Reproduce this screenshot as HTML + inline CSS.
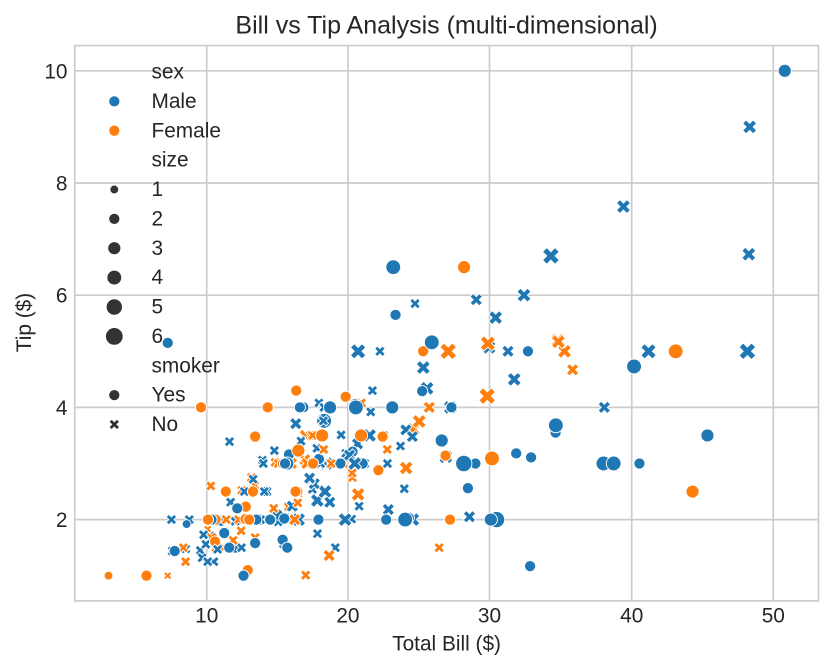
<!DOCTYPE html>
<html><head><meta charset="utf-8"><style>
html,body{margin:0;padding:0;background:#fff;}
svg{display:block;}
text{font-family:"Liberation Sans",Arial,sans-serif;fill:#262626;}
</style></head><body>
<svg id="c" width="833" height="670" viewBox="0 0 833 670" xmlns="http://www.w3.org/2000/svg">
<rect width="833" height="670" fill="#fff"/>
<g stroke="#cccccc" stroke-width="1.7">
<line x1="206.7" y1="45.6" x2="206.7" y2="600.9"/>
<line x1="347.9" y1="45.6" x2="347.9" y2="600.9"/>
<line x1="489.5" y1="45.6" x2="489.5" y2="600.9"/>
<line x1="631.7" y1="45.6" x2="631.7" y2="600.9"/>
<line x1="773.3" y1="45.6" x2="773.3" y2="600.9"/>
<line x1="74.7" y1="70.8" x2="818.5" y2="70.8"/>
<line x1="74.7" y1="183.0" x2="818.5" y2="183.0"/>
<line x1="74.7" y1="295.2" x2="818.5" y2="295.2"/>
<line x1="74.7" y1="407.4" x2="818.5" y2="407.4"/>
<line x1="74.7" y1="519.6" x2="818.5" y2="519.6"/>
</g>
<g id="pts"></g>
<rect x="74.7" y="45.6" width="743.8" height="555.3" fill="none" stroke="#cccccc" stroke-width="1.7"/>
<g id="leg"></g>
<g font-size="20.83">
<text x="151.5" y="78.6">sex</text>
<text x="151.5" y="108.0">Male</text>
<text x="151.5" y="137.3">Female</text>
<text x="151.5" y="166.7">size</text>
<text x="151.5" y="196.1">1</text>
<text x="151.5" y="225.5">2</text>
<text x="151.5" y="254.8">3</text>
<text x="151.5" y="284.2">4</text>
<text x="151.5" y="313.6">5</text>
<text x="151.5" y="343.0">6</text>
<text x="151.5" y="372.3">smoker</text>
<text x="151.5" y="401.7">Yes</text>
<text x="151.5" y="431.0">No</text>
</g>
<g font-size="20.83" text-anchor="middle">
<text x="206.7" y="622.3">10</text>
<text x="347.9" y="622.3">20</text>
<text x="489.5" y="622.3">30</text>
<text x="631.7" y="622.3">40</text>
<text x="773.3" y="622.3">50</text>
<text x="446.6" y="650.7">Total Bill ($)</text>
<text transform="translate(31,322.5) rotate(-90)">Tip ($)</text>
</g>
<g font-size="20.83" text-anchor="end">
<text x="67.5" y="78.3">10</text>
<text x="67.5" y="190.5">8</text>
<text x="67.5" y="302.7">6</text>
<text x="67.5" y="414.9">4</text>
<text x="67.5" y="527.1">2</text>
</g>
<text x="446.6" y="33.3" font-size="25" text-anchor="middle">Bill vs Tip Analysis (multi-dimensional)</text>
</svg>
<script>
const D="16.99,1.01,F,N,2;10.34,1.66,M,N,3;21.01,3.5,M,N,3;23.68,3.31,M,N,2;24.59,3.61,F,N,4;25.29,4.71,M,N,4;8.77,2.0,M,N,2;26.88,3.12,M,N,4;15.04,1.96,M,N,2;14.78,3.23,M,N,2;10.27,1.71,M,N,2;35.26,5.0,F,N,4;15.42,1.57,M,N,2;18.43,3.0,M,N,4;14.83,3.02,F,N,2;21.58,3.92,M,N,2;10.33,1.67,F,N,3;16.29,3.71,M,N,3;16.97,3.5,F,N,3;20.65,3.35,M,N,3;17.92,4.08,M,N,2;20.29,2.75,F,N,2;15.77,2.23,F,N,2;39.42,7.58,M,N,4;19.82,3.18,M,N,2;17.81,2.34,M,N,4;13.37,2.0,M,N,2;12.69,2.0,M,N,2;21.7,4.3,M,N,2;19.65,3.0,F,N,2;9.55,1.45,M,N,2;18.35,2.5,M,N,4;15.06,3.0,F,N,2;20.69,2.45,F,N,4;17.78,3.27,M,N,2;24.06,3.6,M,N,3;16.31,2.0,M,N,3;16.93,3.07,F,N,3;18.69,2.31,M,N,3;31.27,5.0,M,N,3;16.04,2.24,M,N,3;17.46,2.54,M,N,2;13.94,3.06,M,N,2;9.68,1.32,M,N,2;30.4,5.6,M,N,4;18.29,3.0,M,N,2;22.23,5.0,M,N,2;32.4,6.0,M,N,4;28.55,2.05,M,N,3;18.04,3.0,M,N,2;12.54,2.5,M,N,2;10.29,2.6,F,N,2;34.81,5.2,F,N,4;9.94,1.56,M,N,2;25.56,4.34,M,N,4;19.49,3.51,M,N,2;38.01,3.0,M,Y,4;26.41,1.5,F,N,2;11.24,1.76,M,Y,2;48.27,6.73,M,N,4;20.29,3.21,M,Y,2;13.81,2.0,M,Y,2;11.02,1.98,M,Y,2;18.29,3.76,M,Y,4;17.59,2.64,M,N,3;20.08,3.15,M,N,3;16.45,2.47,F,N,2;3.07,1.0,F,Y,1;20.23,2.01,M,N,2;15.01,2.09,M,Y,2;12.02,1.97,M,N,2;17.07,3.0,F,N,3;26.86,3.14,F,Y,2;25.28,5.0,F,Y,2;14.73,2.2,F,N,2;10.51,1.25,M,N,2;17.92,3.08,M,Y,2;27.2,4.0,M,N,4;22.76,3.0,M,N,2;17.29,2.71,M,N,2;19.44,3.0,M,Y,2;16.66,3.4,M,N,2;10.07,1.83,F,N,1;32.68,5.0,M,Y,2;15.98,2.03,M,N,2;34.83,5.17,F,N,4;13.03,2.0,M,N,2;18.28,4.0,M,N,2;24.71,5.85,M,N,2;21.16,3.0,M,N,2;28.97,3.0,M,Y,2;22.49,3.5,M,N,2;5.75,1.0,F,Y,2;16.32,4.3,F,Y,2;22.75,3.25,F,N,2;40.17,4.73,M,Y,4;27.28,4.0,M,Y,2;12.03,1.5,M,Y,2;21.01,3.0,M,Y,2;12.46,1.5,M,N,2;11.35,2.5,F,Y,2;15.38,3.0,F,Y,2;44.3,2.5,F,Y,3;22.42,3.48,F,Y,2;20.92,4.08,F,N,2;15.36,1.64,M,Y,2;20.49,4.06,M,Y,2;25.21,4.29,M,Y,2;18.24,3.76,M,N,2;14.31,4.0,F,Y,2;14.0,3.0,M,N,2;7.25,1.0,F,N,1;38.07,4.0,M,N,3;23.95,2.55,M,N,2;25.71,4.0,F,N,3;17.31,3.5,F,N,2;29.93,5.07,M,N,4;10.65,1.5,F,N,2;12.43,1.8,F,N,2;24.08,2.92,F,N,4;11.69,2.31,M,N,2;13.42,1.68,F,N,2;14.26,2.5,M,N,2;15.95,2.0,M,N,2;12.48,2.52,F,N,2;29.8,4.2,F,N,6;8.52,1.48,M,N,2;14.52,2.0,F,N,2;11.38,2.0,F,N,2;22.82,2.18,M,N,3;19.08,1.5,M,N,2;20.27,2.83,F,N,2;11.17,1.5,F,N,2;12.26,2.0,F,N,2;18.26,3.25,F,N,2;8.51,1.25,F,N,2;10.33,2.0,F,N,2;14.15,2.0,F,N,2;16.0,2.0,M,Y,2;13.16,2.75,F,N,2;17.47,3.5,F,N,2;34.3,6.7,M,N,6;41.19,5.0,M,N,5;27.05,5.0,F,N,6;16.43,2.3,F,N,2;8.35,1.5,F,N,2;18.64,1.36,F,N,3;11.87,1.63,F,N,2;9.78,1.73,M,N,2;7.51,2.0,M,N,2;14.07,2.5,M,N,2;13.13,2.0,M,N,2;17.26,2.74,M,N,3;24.55,2.0,M,N,4;19.77,2.0,M,N,4;29.85,5.14,F,N,5;48.17,5.0,M,N,6;25.0,3.75,F,N,4;13.39,2.61,F,N,2;16.49,2.0,M,N,4;21.5,3.5,M,N,4;12.66,2.5,M,N,2;16.21,2.0,F,N,3;13.81,2.0,M,N,2;17.51,3.0,F,Y,2;24.52,3.48,M,N,3;20.76,2.24,M,N,2;31.71,4.5,M,N,4;10.59,1.61,F,Y,2;10.63,2.0,F,Y,2;50.81,10.0,M,Y,3;15.81,3.16,M,Y,2;7.25,5.15,M,Y,2;31.85,3.18,M,Y,2;16.82,4.0,M,Y,2;32.9,3.11,M,Y,2;17.89,2.0,M,Y,2;14.48,2.0,M,Y,2;9.6,4.0,F,Y,2;34.63,3.55,M,Y,2;34.65,3.68,M,Y,4;23.33,5.65,M,Y,2;45.35,3.5,M,Y,3;23.17,6.5,M,Y,4;40.55,3.0,M,Y,2;20.69,5.0,M,N,5;20.9,3.5,F,Y,3;30.46,2.0,M,Y,5;18.15,3.5,F,Y,3;23.1,4.0,M,Y,3;15.69,1.5,M,Y,2;19.81,4.19,F,Y,2;28.44,2.56,M,Y,2;15.48,2.02,M,Y,2;16.58,4.0,M,Y,2;7.56,1.44,M,N,2;10.34,2.0,M,Y,2;43.11,5.0,F,Y,4;13.0,2.0,F,Y,2;13.51,2.0,M,Y,2;18.71,4.0,M,Y,3;12.74,2.01,F,Y,2;13.0,2.0,F,Y,2;16.4,2.5,F,Y,2;20.53,4.0,M,Y,4;16.47,3.23,F,Y,3;26.59,3.41,M,Y,3;38.73,3.0,M,Y,4;24.27,2.03,M,Y,2;12.76,2.23,F,Y,2;30.06,2.0,M,Y,3;25.89,5.16,M,Y,4;48.33,9.0,M,N,4;13.27,2.5,F,Y,2;28.17,6.5,F,Y,3;12.9,1.1,F,Y,2;28.15,3.0,M,Y,5;11.59,1.5,M,Y,2;7.74,1.44,M,Y,2;30.14,3.09,F,Y,4;12.16,2.2,M,Y,2;13.42,3.48,F,Y,2;8.58,1.92,M,Y,1;15.98,3.0,F,N,3;13.42,1.58,M,Y,2;16.27,2.5,F,Y,2;10.09,2.0,F,Y,2;20.45,3.0,M,N,4;13.28,2.72,M,N,2;22.12,2.88,F,Y,2;24.01,2.0,M,Y,4;15.69,3.0,M,Y,3;11.61,3.39,M,N,2;10.77,1.47,M,N,2;15.53,3.0,M,Y,2;10.07,1.25,M,N,2;12.6,1.0,M,Y,2;32.83,1.17,M,Y,2;35.83,4.67,F,N,3;29.03,5.92,M,N,3;27.18,2.0,F,Y,2;22.67,2.0,M,Y,2;17.82,1.75,M,N,2;18.78,3.0,F,N,2";
const NS="http://www.w3.org/2000/svg";
function px(v){return 206.7+(v-10)*14.165;}
function py(v){return 70.8+(10-v)*56.1;}
function diam(s){return Math.sqrt(18+(s-1)*10.8)*150/72;}
const P=[[-1,-3],[1,-3],[1,-1],[3,-1],[3,1],[1,1],[1,3],[-1,3],[-1,1],[-3,1],[-3,-1],[-1,-1]];
const C=Math.SQRT1_2;
function mk(parent,cx,cy,d,fill,isX){
  let e;
  if(isX){
    e=document.createElementNS(NS,"polygon");
    e.setAttribute("points",P.map(function(p){const a=p[0]/6*d,b=p[1]/6*d;return (cx+(a-b)*C).toFixed(2)+","+(cy+(a+b)*C).toFixed(2);}).join(" "));
  } else {
    e=document.createElementNS(NS,"circle");
    e.setAttribute("cx",cx.toFixed(2));e.setAttribute("cy",cy.toFixed(2));e.setAttribute("r",(d/2).toFixed(2));
  }
  e.setAttribute("fill",fill);e.setAttribute("stroke","#ffffff");e.setAttribute("stroke-width","0.9");
  parent.appendChild(e);
}
const g=document.getElementById("pts");
D.split(";").forEach(function(r){
  const f=r.split(",");
  mk(g,px(+f[0]),py(+f[1]),diam(+f[4]),f[2]==="M"?"#1f77b4":"#ff7f0e",f[3]==="N");
});
const L=document.getElementById("leg");
const lx=114.3;
mk(L,lx,101.4,11.2,"#1f77b4",false);
mk(L,lx,130.7,11.2,"#ff7f0e",false);
const sy=[189.5,218.9,248.2,277.6,307.0,336.4];
for(let i=0;i<6;i++){mk(L,lx,sy[i],diam(i+1),"#333333",false);}
mk(L,lx,395.1,11.2,"#333333",false);
mk(L,lx,424.4,11.2,"#333333",true);
</script>
</body></html>
